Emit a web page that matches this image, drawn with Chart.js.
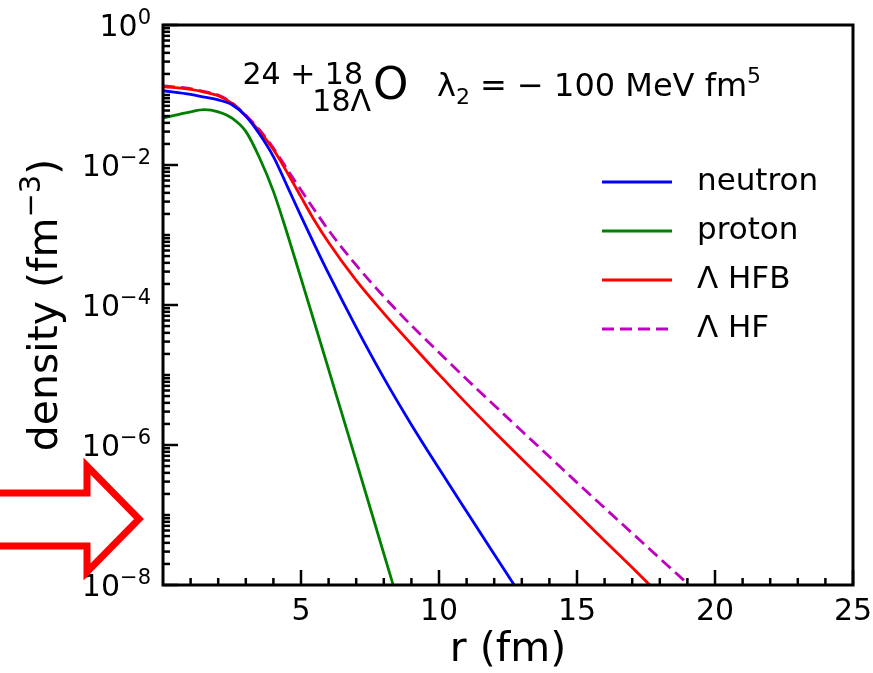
<!DOCTYPE html>
<html>
<head>
<meta charset="utf-8">
<title>density profiles</title>
<script src="https://cdn.jsdelivr.net/npm/chart.js@4/dist/chart.umd.min.js"></script>
<style>
    body { margin: 0; background: #fff; }
    #wrap { width: 873px; height: 673px; position: relative; }
</style>
</head>
<body>
<div id="wrap"><canvas id="chart"></canvas></div>
<script>
// r grid (fm) and densities (fm^-3)
const rValues   = [0, 1, 1.5, 2, 2.5, 3, 3.5, 4, 4.5, 5, 5.5, 6, 7, 8, 9, 10, 11, 12, 13, 14, 15, 16, 17, 18, 19, 20];
const neutron   = [0.115, 0.102, 0.0933, 0.0851, 0.0724, 0.0501, 0.0275, 0.0132, 5.0e-3, 1.86e-3, 7.1e-4, 2.8e-4, 4.8e-5, 9.1e-6, 1.95e-6, 4.6e-7, 1.12e-7, 2.75e-8, 6.8e-9, null, null, null, null, null, null, null];
const proton    = [0.0468, 0.0575, 0.0617, 0.0575, 0.0468, 0.0302, 0.0126, 4.2e-3, 1.05e-3, 2.4e-4, 5.4e-5, 1.2e-5, 5.9e-7, 2.8e-8, 1.35e-9, null, null, null, null, null, null, null, null, null, null, null];
const lambdaHFB = [0.132, 0.120, 0.110, 0.0977, 0.0759, 0.0501, 0.0302, 0.0166, 7.8e-3, 3.5e-3, 1.58e-3, 7.8e-4, 2.24e-4, 7.6e-5, 2.75e-5, 1.02e-5, 3.9e-6, 1.55e-6, 6.3e-7, 2.6e-7, 1.05e-7, 4.3e-8, 1.78e-8, 7.2e-9, null, null];
const lambdaHF  = [0.135, 0.123, 0.112, 0.100, 0.0776, 0.0513, 0.0316, 0.0174, 8.7e-3, 4.4e-3, 2.24e-3, 1.17e-3, 3.7e-4, 1.32e-4, 5.1e-5, 2.1e-5, 8.7e-6, 3.7e-6, 1.58e-6, 6.8e-7, 2.9e-7, 1.26e-7, 5.5e-8, 2.4e-8, 1.05e-8, 4.6e-9];

const seriesNames = ["neutron", "proton", "Λ HFB", "Λ HF"];
const xTicks = [5, 10, 15, 20, 25];
const yTickExps = [0, -2, -4, -6, -8];

const FONT = "'DejaVu Sans', sans-serif";

function points(vals) {
    var out = [];
    for (var i = 0; i < rValues.length; i++) {
        if (vals[i] != null) out.push({x: rValues[i], y: vals[i]});
    }
    return out;
}

function line(label, vals, color, dash) {
    return {
        label: label,
        data: points(vals),
        borderColor: color,
        borderWidth: 2.8,
        borderDash: dash || [],
        pointRadius: 0,
        fill: false,
        cubicInterpolationMode: "monotone"
    };
}

// draws "base" with a raised exponent, returns end x
function supText(ctx, base, exp, x, y, size, align) {
    ctx.font = size + "px " + FONT;
    var wb = ctx.measureText(base).width;
    ctx.font = Math.round(size * 0.7) + "px " + FONT;
    var we = ctx.measureText(exp).width;
    var x0 = align == "right" ? x - wb - we : x;
    ctx.textAlign = "left";
    ctx.font = size + "px " + FONT;
    ctx.fillText(base, x0, y);
    ctx.font = Math.round(size * 0.7) + "px " + FONT;
    ctx.fillText(exp, x0 + wb, y - size * 0.4);
    return x0 + wb + we;
}

const decor = {
    id: "decor",
    afterDraw(chart) {
        var ctx = chart.ctx;
        var a = chart.chartArea;
        var xs = chart.scales.x, ys = chart.scales.y;
        ctx.save();
        ctx.fillStyle = "#000";
        ctx.strokeStyle = "#000";

        // frame
        ctx.lineWidth = 3;
        ctx.strokeRect(a.left, a.top, a.right - a.left, a.bottom - a.top);

        // x ticks, inward
        ctx.lineWidth = 2.5;
        for (var v = 1; v <= 25; v++) {
            var px = xs.getPixelForValue(v);
            var len = v % 5 == 0 ? 15 : 7;
            ctx.beginPath();
            ctx.moveTo(px, a.bottom);
            ctx.lineTo(px, a.bottom - len);
            ctx.stroke();
        }
        // y ticks, inward
        for (var d = -8; d <= 0; d++) {
            var py = ys.getPixelForValue(Math.pow(10, d));
            ctx.beginPath();
            ctx.moveTo(a.left, py);
            ctx.lineTo(a.left + (d % 2 == 0 ? 15 : 7), py);
            ctx.stroke();
            if (d == 0) continue;
            for (var m = 2; m <= 9; m++) {
                var pm = ys.getPixelForValue(m * Math.pow(10, d));
                ctx.beginPath();
                ctx.moveTo(a.left, pm);
                ctx.lineTo(a.left + 7, pm);
                ctx.stroke();
            }
        }

        // tick labels
        ctx.textBaseline = "alphabetic";
        ctx.font = "30px " + FONT;
        ctx.textAlign = "center";
        xTicks.forEach(function(t) {
            ctx.fillText(String(t), xs.getPixelForValue(t), 620);
        });
        yTickExps.forEach(function(e) {
            var py = ys.getPixelForValue(Math.pow(10, e));
            var s = e < 0 ? "\u2212" + (-e) : String(e);
            supText(ctx, "10", s, 151, py + 11, 30, "right");
        });

        // axis titles
        ctx.font = "41px " + FONT;
        ctx.textAlign = "center";
        ctx.fillText("r (fm)", (a.left + a.right) / 2, 661);

        ctx.save();
        ctx.translate(57, (a.top + a.bottom) / 2);
        ctx.rotate(-Math.PI / 2);
        ctx.font = "41px " + FONT;
        var w1 = ctx.measureText("density (fm").width;
        var w3 = ctx.measureText(")").width;
        ctx.font = "29px " + FONT;
        var w2 = ctx.measureText("\u22123").width;
        var sx = -(w1 + w2 + w3) / 2;
        ctx.textAlign = "left";
        ctx.font = "41px " + FONT;
        ctx.fillText("density (fm", sx, 0);
        ctx.font = "29px " + FONT;
        ctx.fillText("\u22123", sx + w1, -17);
        ctx.font = "41px " + FONT;
        ctx.fillText(")", sx + w1 + w2, 0);
        ctx.restore();

        // annotation
        ctx.font = "30px " + FONT;
        ctx.textAlign = "right";
        ctx.fillText("24 + 18", 363, 84);
        ctx.fillText("18\u039b", 371, 111);
        ctx.textAlign = "left";
        ctx.font = "45px " + FONT;
        ctx.fillText("O", 373, 99);
        ctx.font = "32px " + FONT;
        ctx.fillText("\u03bb", 437, 96);
        var lx = 437 + ctx.measureText("\u03bb").width;
        ctx.font = "22px " + FONT;
        ctx.fillText("2", lx, 104);
        lx += ctx.measureText("2").width;
        supText(ctx, " = \u2212 100 MeV fm", "5", lx, 96, 32, "left");

        // legend
        var rows = [182, 231, 280, 329];
        chart.data.datasets.forEach(function(ds, i) {
            ctx.strokeStyle = ds.borderColor;
            ctx.lineWidth = 2.8;
            ctx.setLineDash(ds.borderDash);
            ctx.beginPath();
            ctx.moveTo(602, rows[i]);
            ctx.lineTo(672, rows[i]);
            ctx.stroke();
            ctx.setLineDash([]);
            ctx.fillStyle = "#000";
            ctx.font = "31px " + FONT;
            ctx.textBaseline = "middle";
            ctx.textAlign = "left";
            ctx.fillText(seriesNames[i], 697, rows[i]);
        });

        // hollow red arrow pointing at the axis
        ctx.strokeStyle = "#ff0000";
        ctx.lineWidth = 7;
        ctx.lineJoin = "miter";
        ctx.beginPath();
        ctx.moveTo(-5, 493);
        ctx.lineTo(87, 493);
        ctx.lineTo(87, 466);
        ctx.lineTo(139, 519);
        ctx.lineTo(87, 572);
        ctx.lineTo(87, 546);
        ctx.lineTo(-5, 546);
        ctx.stroke();

        ctx.restore();
    }
};

new Chart(document.getElementById("chart"), {
    type: "line",
    data: {
        datasets: [
            line(seriesNames[0], neutron, "#0000ff"),
            line(seriesNames[1], proton, "#008000"),
            line(seriesNames[2], lambdaHFB, "#ff0000"),
            line(seriesNames[3], lambdaHF, "#bf00bf", [12, 6])
        ]
    },
    options: {
        responsive: true,
        maintainAspectRatio: false,
        animation: false,
        layout: { padding: { left: 163, top: 25, right: 20, bottom: 88 } },
        scales: {
            x: { type: "linear", min: 0, max: 25, display: false },
            y: { type: "logarithmic", min: 1e-8, max: 1, display: false }
        },
        plugins: { legend: { display: false }, tooltip: { enabled: false } }
    },
    plugins: [decor]
});
</script>
</body>
</html>
